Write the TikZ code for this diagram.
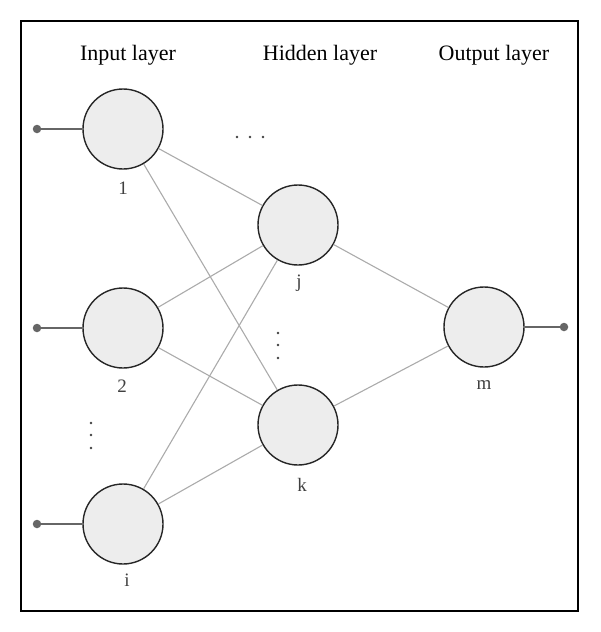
\documentclass[tikz,border=0pt]{standalone}
\usepackage{fontspec}
\setmainfont{Liberation Serif}
\begin{document}
\begin{tikzpicture}[x=1pt,y=-1pt,
  neuron/.style={circle,draw=black!85,line width=1.4pt,fill=black!7,minimum size=80pt,inner sep=0pt},
  conn/.style={draw=black!33,line width=1.1pt},
  inline/.style={draw=black!60,line width=1.4pt},
  term/.style={circle,fill=black!60,inner sep=0pt,minimum size=8.5pt},
  lbl/.style={text=black!75,font=\fontsize{19}{22}\selectfont},
  title/.style={font=\fontsize{22}{26}\selectfont},
  dotc/.style={circle,fill=black!75,inner sep=0pt,minimum size=2.8pt}]
\useasboundingbox (0,0) rectangle (600,632);
\draw[line width=1.5pt] (21,21) rectangle (578,611);
\node[title] (t1) at (128,55) {Input layer};
\node[title] (t2) at (320,55) {Hidden layer};
\node[title] (t3) at (494,55) {Output layer};
\node[neuron] (n1) at (123,129) {};
\node[neuron] (n2) at (123,328) {};
\node[neuron] (ni) at (123,524) {};
\node[neuron] (nj) at (298,225) {};
\node[neuron] (nk) at (298,425) {};
\node[neuron] (nm) at (484,327) {};
\node[term] (d1) at (37,129) {};
\node[term] (d2) at (37,328) {};
\node[term] (di) at (37,524) {};
\node[term] (dm) at (564,327) {};
\draw[inline] (d1) -- (n1);
\draw[inline] (d2) -- (n2);
\draw[inline] (di) -- (ni);
\draw[inline] (nm) -- (dm);
\foreach \a in {n1,n2,ni}{\foreach \b in {nj,nk}{\draw[conn] (\a) -- (\b);}}
\draw[conn] (nj) -- (nm);
\draw[conn] (nk) -- (nm);
\node[lbl] (l1) at (123,188) {1};
\node[lbl] (l2) at (122,386) {2};
\node[lbl] (li) at (127,580) {i};
\node[lbl] (lj) at (299,283) {j};
\node[lbl] (lk) at (302,485) {k};
\node[lbl] (lm) at (484,385) {m};
\node[dotc] (h1) at (237,137) {};
\node[dotc] (h2) at (250,137) {};
\node[dotc] (h3) at (263,137) {};
\node[dotc] (v1) at (278,333) {};
\node[dotc] (v2) at (278,345) {};
\node[dotc] (v3) at (278,358) {};
\node[dotc] (w1) at (91,423) {};
\node[dotc] (w2) at (91,435) {};
\node[dotc] (w3) at (91,448) {};
\end{tikzpicture}
\end{document}
